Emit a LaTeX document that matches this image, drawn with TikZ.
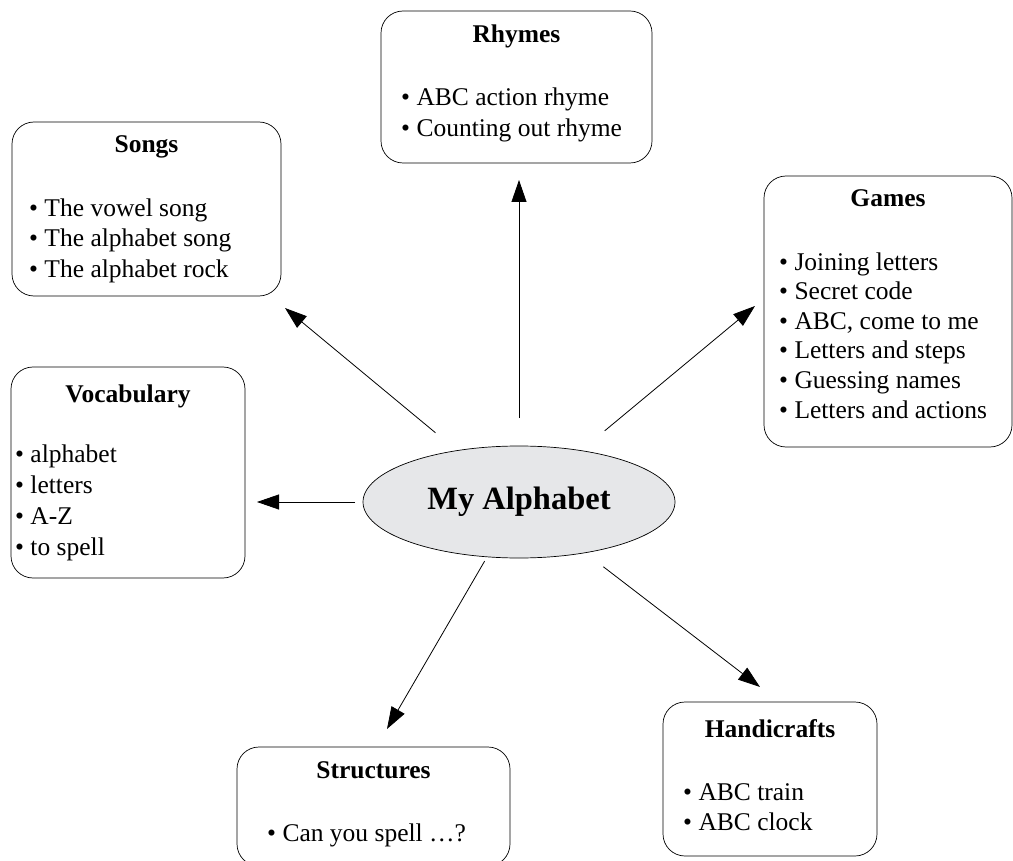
\documentclass[tikz,border=0pt]{standalone}
\usepackage{fontspec}
\setmainfont{Liberation Serif}
\usetikzlibrary{arrows.meta,shapes.geometric}
\definecolor{hubgrey}{RGB}{230,231,233}
\tikzset{
     topic/.style = { draw, rounded corners=22pt, line width=0.7pt, inner sep=0pt, outer sep=0pt },
   heading/.style = { font=\fontsize{25.5}{31}\selectfont\bfseries, anchor=base, inner sep=0pt },
     items/.style = { font=\fontsize{25.5}{31}\selectfont, align=left, anchor=base west, inner sep=0pt },
       hub/.style = { ellipse, draw, fill=hubgrey, line width=0.7pt, minimum width=312pt,
                      minimum height=112pt, inner sep=0pt, outer sep=0pt,
                      font=\fontsize{32.5}{39}\selectfont\bfseries },
     arrow/.style = { line width=0.8pt, -{Triangle[length=22pt,width=15pt]} },
}
\newcommand*{\point}{\textbullet\ }
\begin{document}
\begin{tikzpicture}[x=1pt, y=-1pt]
  \useasboundingbox (0,0) rectangle (1013,861);
  \node [hub] (hub) at (519,502) {My Alphabet};

  \node [topic, minimum width=271pt, minimum height=152pt] (rhymes) at (516.5,87)    {};
  \node [topic, minimum width=269pt, minimum height=174pt] (songs)  at (146.5,209)   {};
  \node [topic, minimum width=248pt, minimum height=271pt] (games)  at (888,311.5)   {};
  \node [topic, minimum width=234pt, minimum height=211pt] (vocab)  at (128,472.5)   {};
  \node [topic, minimum width=273pt, minimum height=119pt] (struct) at (373.5,806.5) {};
  \node [topic, minimum width=214pt, minimum height=154pt] (craft)  at (770,779)     {};

  \node [heading] (rhymes-head) at ([yshift=-32pt]rhymes.north) {Rhymes};
  \node [heading] (songs-head)  at ([yshift=-31pt]songs.north)  {Songs};
  \node [heading] (games-head)  at ([yshift=-31pt]games.north)  {Games};
  \node [heading] (vocab-head)  at ([yshift=-35pt]vocab.north)  {Vocabulary};
  \node [heading] (struct-head) at ([yshift=-31pt]struct.north) {Structures};
  \node [heading] (craft-head)  at ([yshift=-35pt]craft.north)  {Handicrafts};

  \node [items] (rhymes-list) at (401,137)
    {\point ABC action rhyme\\ \point Counting out rhyme};
  \node [items] (songs-list) at (29,278)
    {\point The vowel song\\ \point The alphabet song\\ \point The alphabet rock};
  \node [items, font=\fontsize{25.5}{29.6}\selectfont] (games-list) at (779,418)
    {\point Joining letters\\ \point Secret code\\ \point ABC, come to me\\
     \point Letters and steps\\ \point Guessing names\\ \point Letters and actions};
  \node [items] (vocab-list) at (15,555)
    {\point alphabet\\ \point letters\\ \point A-Z\\ \point to spell};
  \node [items] (struct-list) at (267,841) {\point Can you spell \dots?};
  \node [items, font=\fontsize{25.5}{30}\selectfont] (craft-list) at (683,830)
    {\point ABC train\\ \point ABC clock};

  \coordinate (rhymes-in) at (519,180);
  \coordinate (songs-in)  at (285,308);
  \coordinate (games-in)  at (755,306);
  \coordinate (vocab-in)  at (257,502);
  \coordinate (struct-in) at (387,729);
  \coordinate (craft-in)  at (760,687);
  \foreach \t/\g in {rhymes-in/28,songs-in/28,games-in/31,vocab-in/8,struct-in/5,craft-in/23}
    \draw [arrow, shorten <=\g pt] (hub) -- (\t);
\end{tikzpicture}
\end{document}
